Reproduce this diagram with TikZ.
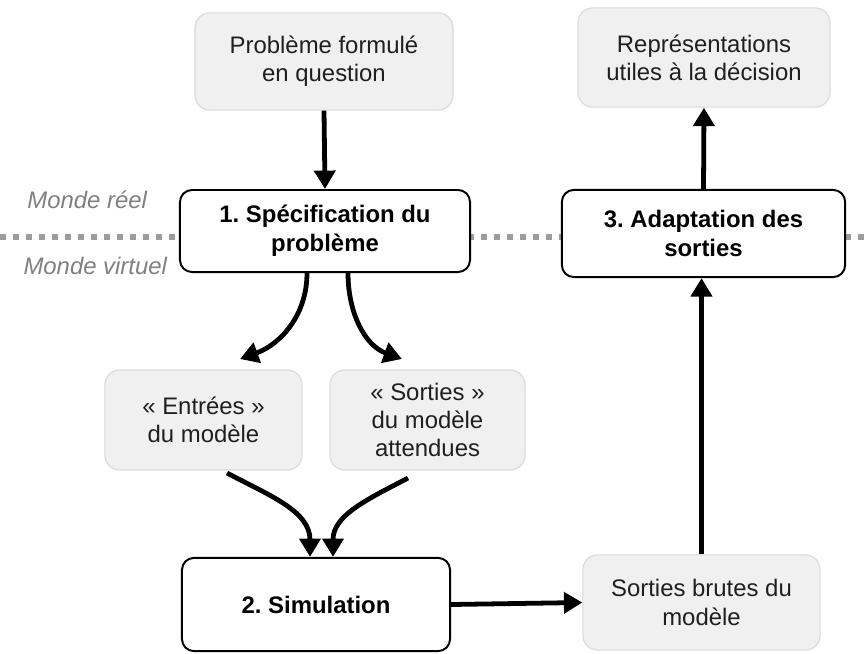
\documentclass[tikz,border=0pt]{standalone}
\usepackage{fontspec}
\setmainfont{Liberation Sans}
\frenchspacing
\usetikzlibrary{positioning, arrows.meta}
\definecolor{boxgray}{HTML}{F0F0F0}
\definecolor{linegray}{HTML}{DADADA}
\definecolor{dotgray}{HTML}{9C9C9C}
\definecolor{worldgray}{HTML}{808080}
\tikzset{
	edge/.style={line width=3.4pt, -{Triangle[length=0.46cm, width=0.52cm]}},
	stage/.style={
		rectangle,
		draw=black,
		line width=1.4pt,
		fill=white,
		rounded corners=0.3cm,
		align=center,
		font=\fontsize{17}{20.5}\selectfont\bfseries
	},
	info/.style={
		rectangle,
		draw=linegray,
		line width=0.8pt,
		fill=boxgray,
		rounded corners=0.37cm,
		align=center,
		text=black!88,
		font=\fontsize{17}{20}\selectfont
	},
	world/.style={font=\fontsize{17}{20}\selectfont\itshape, text=worldgray, anchor=east},
	border/.style={line width=0.15cm, dotgray, dash pattern=on 0.15cm off 0.175cm}
}

\begin{document}
\begin{tikzpicture}[x=0.025cm, y=0.025cm]
	\useasboundingbox (0,0) rectangle (868,-653);

	% frontiere monde reel / virtuel
	\coordinate (bleft) at (0,-237);
	\coordinate (bright) at (868,-237);
	\draw[border] (bleft) -- (bright);
	\node[world] (reel) at (152,-200) {Monde réel};
	\node[world] (virtuel) at (172,-266) {Monde virtuel};

	% etapes
	\node[stage, minimum width=7.25cm, minimum height=2.05cm] (spec) at (325,-231) {1. Spécification du\\problème};
	\node[stage, minimum width=6.7cm, minimum height=2.33cm] (simu) at (316,-604.5) {2. Simulation};
	\node[stage, minimum width=7.08cm, minimum height=2.18cm] (adapt) at (703.5,-233.5) {3. Adaptation des\\sorties};

	% donnees
	\node[info, minimum width=6.45cm, minimum height=2.43cm] (question) at (324,-61.5) {Problème formulé\\en question};
	\node[info, minimum width=6.3cm, minimum height=2.48cm] (repr) at (704,-57.5) {Représentations\\utiles à la décision};
	\node[info, minimum width=4.93cm, minimum height=2.5cm] (entrees) at (203.5,-420) {« Entrées »\\du modèle};
	\node[info, minimum width=4.88cm, minimum height=2.5cm] (sorties) at (427.5,-420) {« Sorties »\\du modèle\\attendues};
	\node[info, minimum width=5.93cm, minimum height=2.38cm] (brutes) at (701.5,-602.5) {Sorties brutes du\\modèle};

	% liens
	\coordinate (tipin) at (240,-359);
	\coordinate (tipout) at (402,-359);
	\coordinate (fromin) at (227,-473);
	\coordinate (fromout) at (408,-478);
	\draw[edge] (question.south) -- (spec.north);
	\draw[edge] (spec.south -| 307,0) to[out=-90, in=20] (tipin);
	\draw[edge] (spec.south -| 348,0) to[out=-90, in=160] (tipout);
	\draw[edge] (fromin) to[out=-28, in=90] (simu.north -| 310,0);
	\draw[edge] (fromout) to[out=208, in=90] (simu.north -| 333,0);
	\draw[edge] (simu.east) -- (brutes.west);
	\draw[edge] (brutes.north) -- (brutes.north |- adapt.south);
	\draw[edge] (adapt.north) -- (repr.south);
\end{tikzpicture}
\end{document}
